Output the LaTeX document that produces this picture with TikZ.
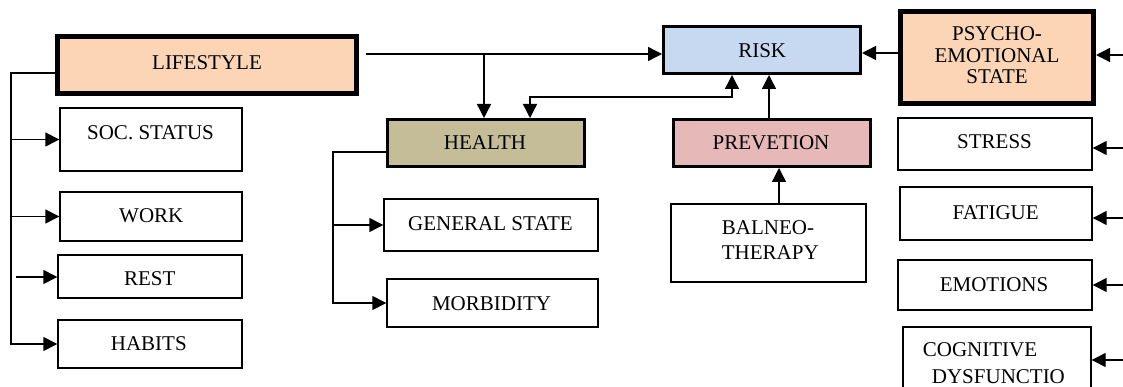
\documentclass[tikz,border=0pt]{standalone}
\usepackage{fontspec}
\setmainfont{Liberation Serif}
\usetikzlibrary{arrows.meta}
\definecolor{peach}{HTML}{FBD5B5}
\definecolor{riskblue}{HTML}{C6D9F1}
\definecolor{healthtan}{HTML}{C4BD97}
\definecolor{prevpink}{HTML}{E6B9B8}
\tikzset{
  box/.style={draw=black, line width=1.4pt, rectangle, inner sep=0pt},
  mainbox/.style={box, line width=3pt},
  topbox/.style={box, line width=5pt},
  lbl/.style={font=\fontsize{21}{23}\selectfont, inner sep=0pt, anchor=base},
  conn/.style={line width=1.4pt, -{Triangle[length=14pt,width=14pt]}},
  dconn/.style={line width=1.4pt, {Triangle[length=14pt,width=14pt]}-{Triangle[length=14pt,width=14pt]}},
}
\begin{document}
\begin{tikzpicture}[x=1pt, y=-1pt]
\useasboundingbox (0,0) rectangle (1123,387);
\clip (0,0) rectangle (1123,387);

% ---- boxes ----
\node[topbox, fill=peach, minimum width=299pt, minimum height=57pt] (life) at (207,65) {};
\node[box, minimum width=182pt, minimum height=63pt] (soc) at (151,139.5) {};
\node[box, minimum width=182pt, minimum height=49pt] (work) at (151,216.5) {};
\node[box, minimum width=184pt, minimum height=43pt] (rest) at (150,276.5) {};
\node[box, minimum width=184pt, minimum height=48pt] (habits) at (150,344) {};

\node[mainbox, fill=healthtan, minimum width=197pt, minimum height=47pt] (health) at (486,143) {};
\node[box, minimum width=214pt, minimum height=52pt] (gen) at (491,225) {};
\node[box, minimum width=211pt, minimum height=48pt] (morb) at (492.5,303) {};

\node[mainbox, fill=riskblue, minimum width=197pt, minimum height=47pt] (risk) at (762,50) {};
\node[mainbox, fill=prevpink, minimum width=197pt, minimum height=47pt] (prev) at (772,143) {};
\node[box, minimum width=195pt, minimum height=78pt] (balneo) at (768.5,243) {};

\node[topbox, fill=peach, minimum width=193pt, minimum height=92pt] (psy) at (997,57.5) {};
\node[box, minimum width=194pt, minimum height=52pt] (stress) at (995,144) {};
\node[box, minimum width=192pt, minimum height=53pt] (fat) at (996,213.5) {};
\node[box, minimum width=194pt, minimum height=50pt] (emo) at (995,285) {};
\node[box, minimum width=188pt, minimum height=80pt] (cog) at (997,367) {};

% ---- texts ----
\node[lbl] (lifet) at (207,69.5) {LIFESTYLE};
\node[lbl] (soct) at (150.5,140) {SOC. STATUS};
\node[lbl] (workt) at (151.3,222.7) {WORK};
\node[lbl] (restt) at (149.8,285.7) {REST};
\node[lbl] (habitst) at (148.8,350.7) {HABITS};
\node[lbl] (healtht) at (485,150) {HEALTH};
\node[lbl] (gent) at (490.5,230) {GENERAL STATE};
\node[lbl] (morbt) at (491.5,310.7) {MORBIDITY};
\node[lbl] (riskt) at (762.2,57.3) {RISK};
\node[lbl] (prevt) at (771,150) {PREVETION};
\node[lbl, anchor=base west] (balt1) at (721.7,234) {BALNEO-};
\node[lbl, anchor=base west] (balt2) at (721.7,259.3) {THERAPY};
\node[lbl] (psyt1) at (997,40.7) {PSYCHO-};
\node[lbl] (psyt2) at (997,62.7) {EMOTIONAL};
\node[lbl] (psyt3) at (997,84) {STATE};
\node[lbl] (stresst) at (994.5,149) {STRESS};
\node[lbl] (fatt) at (995.7,219.3) {FATIGUE};
\node[lbl] (emot) at (994,291.7) {EMOTIONS};
\node[lbl, anchor=base west] (cogt1) at (922.7,356.7) {COGNITIVE};
\node[lbl, anchor=base west] (cogt2) at (931.7,383.3) {DYSFUNCTIO};

% ---- connector points ----
\coordinate (lt) at (11,73);
\coordinate (restin) at (16,277);
\coordinate (ht) at (333,152);
\coordinate (m0) at (366,54);
\coordinate (mb) at (484,54);
\coordinate (hr) at (732,97);
\coordinate (hx) at (530,97);
\coordinate (pin) at (1125,55);
\coordinate (sin) at (1125,148);
\coordinate (fin) at (1125,218);
\coordinate (ein) at (1125,285);
\coordinate (cin) at (1125,360);

% ---- lifestyle tree ----
\draw[conn] (life.west |- lt) -- (lt) |- (habits.west);
\draw[conn] (lt |- soc.west) -- (soc.west);
\draw[conn] (lt |- work.west) -- (work.west);
\draw[conn] (restin) -- (restin -| rest.west);

% ---- health tree ----
\draw[conn] (health.west |- ht) -- (ht) |- (morb.west);
\draw[conn] (ht |- gen.west) -- (gen.west);

% ---- main line ----
\draw[conn] (m0) -- (m0 -| risk.west);
\draw[conn] (mb) -- (mb |- health.north);
\draw[dconn] (hx |- health.north) -- (hx) -- (hr) -- (hr |- risk.south);

% ---- prevention ----
\draw[conn] (prev.north -| 769,0) -- (risk.south -| 769,0);
\draw[conn] (balneo.north -| 779,0) -- (prev.south -| 779,0);

% ---- psycho-emotional ----
\draw[conn] (psy.west |- 0,53) -- (risk.east |- 0,53);
\draw[conn] (pin) -- (pin -| psy.east);
\draw[conn] (sin) -- (sin -| stress.east);
\draw[conn] (fin) -- (fin -| fat.east);
\draw[conn] (ein) -- (ein -| emo.east);
\draw[conn] (cin) -- (cin -| cog.east);
\end{tikzpicture}
\end{document}
